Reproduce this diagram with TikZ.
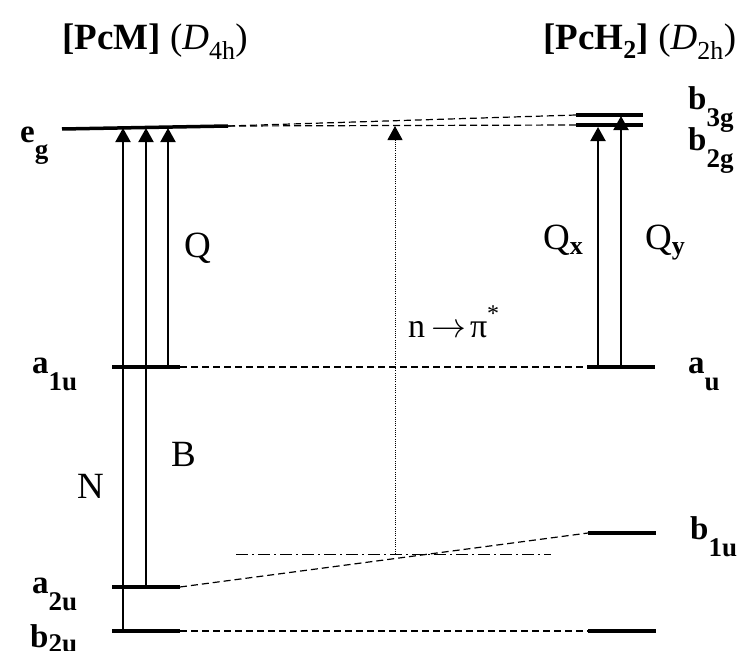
\documentclass[tikz,border=0pt]{standalone}
\usepackage{fontspec}
\setmainfont{Liberation Serif}
\usetikzlibrary{arrows.meta}
\newcommand{\lvsub}[2]{#1\raisebox{-17pt}{\fontsize{27}{27}\selectfont #2}}
\begin{document}
\begin{tikzpicture}[x=1pt,y=-1pt,
  level/.style={line width=3.5pt},
  trans/.style={line width=2pt,-{Triangle[length=14pt,width=15pt]}},
  corr/.style={line width=1.2pt,dash pattern=on 7pt off 4pt},
  lvlab/.style={anchor=base west,inner sep=0pt,font=\fontsize{33}{33}\selectfont\bfseries},
  rlab/.style={anchor=base west,inner sep=0pt,font=\fontsize{37}{37}\selectfont},
  head/.style={anchor=base west,inner sep=0pt,font=\fontsize{37}{37}\selectfont}]
\useasboundingbox (0,0) rectangle (738,650);
% headers
\node[head] (h1) at (62,50) {\textbf{[PcM]} (\textit{D}\textsubscript{4h})};
\node[head] (h2) at (543,50) {\textbf{[PcH\textsubscript{2}]} (\textit{D}\textsubscript{2h})};
% left levels
\coordinate (egL) at (62,129); \coordinate (egR) at (228,126);
\coordinate (a1uL) at (112,367); \coordinate (a1uR) at (180,367);
\coordinate (a2uL) at (112,587); \coordinate (a2uR) at (180,587);
\coordinate (b2uL) at (112,631); \coordinate (b2uR) at (180,631);
% right levels
\coordinate (b3gL) at (576,115); \coordinate (b3gR) at (643,115);
\coordinate (b2gL) at (576,125); \coordinate (b2gR) at (643,125);
\coordinate (auL) at (587,367); \coordinate (auR) at (655,367);
\coordinate (b1uL) at (588,533); \coordinate (b1uR) at (656,533);
\coordinate (bbL) at (588,631); \coordinate (bbR) at (656,631);
\draw[level] (egL) -- (egR);
\draw[level] (a1uL) -- (a1uR);
\draw[level] (a2uL) -- (a2uR);
\draw[level] (b2uL) -- (b2uR);
\draw[level] (b3gL) -- (b3gR);
\draw[level] (b2gL) -- (b2gR);
\draw[level] (auL) -- (auR);
\draw[level] (b1uL) -- (b1uR);
\draw[level] (bbL) -- (bbR);
% correlation lines
\draw[corr] (egR) -- (b3gL);
\draw[corr] (egR) -- (b2gL);
\draw[corr] (a1uR) -- (auL);
\draw[corr] (a2uR) -- (b1uL);
\draw[corr] (b2uR) -- (bbL);
% dash-dot line and dotted arrow
\coordinate (ddL) at (236,554); \coordinate (ddR) at (551,554);
\draw[line width=1pt,dash pattern=on 12pt off 4pt on 2pt off 4pt] (ddL) -- (ddR);
\coordinate (npS) at (395,554); \coordinate (npE) at (395,126);
\draw[line width=1pt,dash pattern=on 1pt off 1.2pt,-{Triangle[length=14pt,width=15pt]}] (npS) -- (npE);
% transitions left
\coordinate (tN1) at (123,631); \coordinate (tN2) at (123,128);
\coordinate (tB1) at (146,587); \coordinate (tB2) at (146,128);
\coordinate (tQ1) at (168,367); \coordinate (tQ2) at (168,128);
\draw[trans] (tN1) -- (tN2);
\draw[trans] (tB1) -- (tB2);
\draw[trans] (tQ1) -- (tQ2);
% transitions right
\coordinate (tQx1) at (598,367); \coordinate (tQx2) at (598,127);
\coordinate (tQy1) at (621,367); \coordinate (tQy2) at (621,116);
\draw[trans] (tQx1) -- (tQx2);
\draw[trans] (tQy1) -- (tQy2);
% level labels
\node[lvlab] (leg) at (20,142) {\lvsub{e}{g}};
\node[lvlab] (la1u) at (32,373) {\lvsub{a}{1u}};
\node[lvlab] (la2u) at (32,593) {\lvsub{a}{2u}};
\node[lvlab] (lb2u) at (30,647) {b\raisebox{-5pt}{\fontsize{27}{27}\selectfont 2u}};
\node[lvlab] (lb3g) at (688,110) {\lvsub{b}{3g}};
\node[lvlab] (lb2g) at (688,150) {\lvsub{b}{2g}};
\node[lvlab] (lau) at (688,373) {\lvsub{a}{u}};
\node[lvlab] (lb1u) at (690,539) {\lvsub{b}{1u}};
% transition labels
\node[rlab] (lQ) at (184,257) {Q};
\node[rlab] (lQx) at (543,249) {Q\raisebox{-5pt}{\fontsize{26}{26}\selectfont\bfseries x}};
\node[rlab] (lQy) at (645,249) {Q\raisebox{-5pt}{\fontsize{26}{26}\selectfont\bfseries y}};
\node[rlab] (lN) at (77,498) {N};
\node[rlab] (lB) at (171,466) {B};
\node[anchor=base west,inner sep=0pt,font=\fontsize{34}{34}\selectfont] (lnp) at (408,337) {n\hspace{6pt}\scalebox{1.4}{$\rightarrow$}\hspace{4pt}π\raisebox{16pt}{\fontsize{24}{24}\selectfont *}};
\end{tikzpicture}
\end{document}
